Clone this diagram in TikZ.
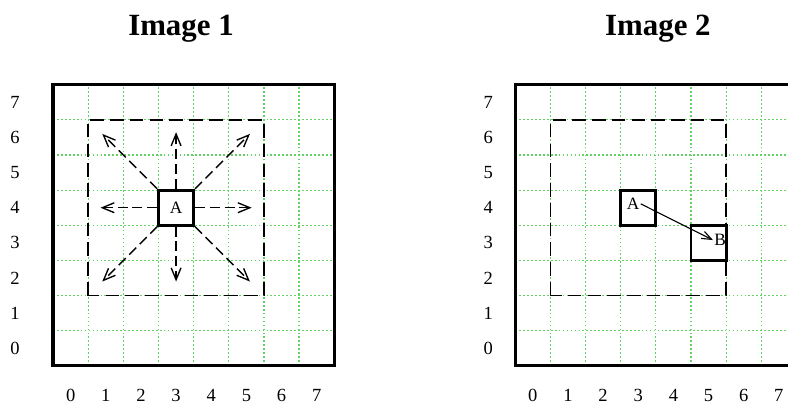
\documentclass[tikz,border=0pt]{standalone}
\usepackage{fontspec}
\setmainfont{Liberation Serif}
\usepackage{xcolor}
\usepackage{tikz}
\usetikzlibrary{positioning,arrows.meta}
\definecolor{gridgreen}{RGB}{100,210,100}

\begin{document}
\begin{tikzpicture}[
  every node/.style={font=\fontsize{15}{18}\selectfont},
  gridline/.style={gridgreen,line width=1pt,dash pattern=on 1.4pt off 1.8pt},
  frame/.style={line width=2.6pt},
  window/.style={line width=1.3pt,dash pattern=on 11pt off 5pt},
  cell/.style={draw,line width=2.2pt,minimum size=1cm,inner sep=0pt,font=\fontsize{14}{16}\selectfont},
  tag/.style={inner sep=1pt,font=\fontsize{14}{16}\selectfont},
  move/.style={line width=1.1pt,dash pattern=on 8pt off 4pt,-{Straight Barb[length=3.4mm,width=2.8mm]}},
  jump/.style={line width=0.9pt,-{Straight Barb[length=2.8mm,width=2.2mm]}},
]
  \useasboundingbox (-1.51,-1.16) rectangle (20.91,10.41);
  \clip (-1.51,-1.16) rectangle (20.91,10.41);
  % both grids: green lines, frame, search window, numbers, title
  \foreach \dx/\lx/\tx/\n in {0/-1.08/3.64/1,13.15/-0.77/4.06/2} {
    \begin{scope}[xshift=\dx cm]
      \foreach \i in {1,...,7} {
        \draw[gridline] (\i,0) -- (\i,8);
        \draw[gridline] (0,\i) -- (8,\i);
      }
      \draw[frame] (0,0) rectangle (8,8);
      \draw[window] (1,2) rectangle (6,7);
      \foreach \i in {0,...,7} {
        \node (xl\n\i) at (\i+0.5,-0.83) {\i};
        \node (yl\n\i) at (\lx,\i+0.5) {\i};
      }
      \node[font=\fontsize{25}{30}\selectfont\bfseries] (title\n) at (\tx,9.6) {Image \n};
    \end{scope}
  }
  % image 1: block A and the eight search directions
  \node[cell] (a1) at (3.5,4.5) {A};
  \coordinate (n1) at (3.5,6.65);
  \coordinate (s1) at (3.5,2.4);
  \coordinate (w1) at (1.35,4.5);
  \coordinate (e1) at (5.65,4.5);
  \coordinate (nw1) at (1.4,6.6);
  \coordinate (ne1) at (5.6,6.6);
  \coordinate (sw1) at (1.4,2.4);
  \coordinate (se1) at (5.6,2.4);
  \foreach \c/\t in {north/n1,south/s1,west/w1,east/e1,north west/nw1,north east/ne1,south west/sw1,south east/se1}
    \draw[move] (a1.\c) -- (\t);
  % image 2: A has moved to B
  \begin{scope}[xshift=13.15cm]
    \node[cell] (a2) at (3.5,4.5) {};
    \node[cell] (b2) at (5.5,3.5) {};
    \node[tag] (la) at (3.35,4.61) {A};
    \node[tag] (lb) at (5.83,3.58) {B};
    \draw[jump] (la.east) -- (lb.west);
  \end{scope}
\end{tikzpicture}
\end{document}
